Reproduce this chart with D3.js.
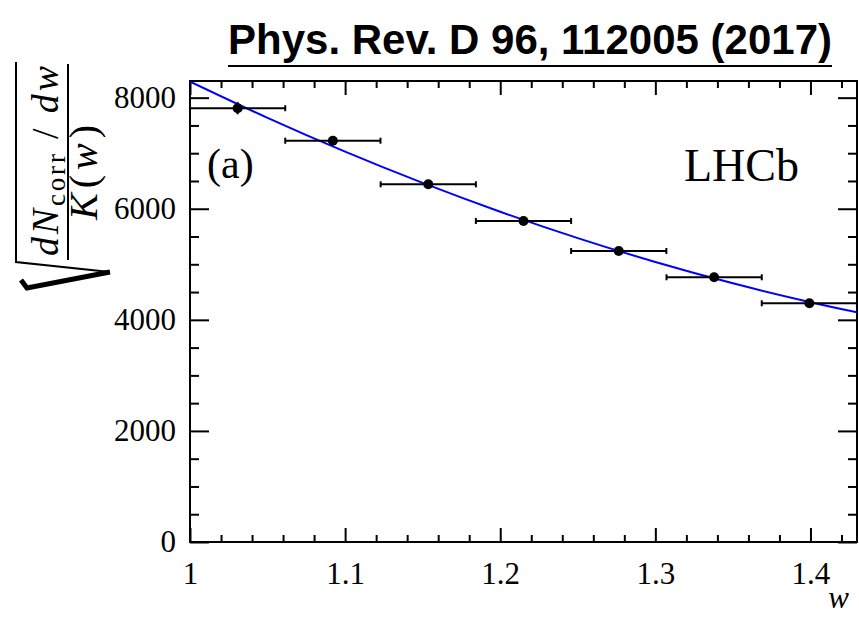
<!DOCTYPE html>
<html>
<head>
<meta charset="utf-8">
<script src="https://cdn.jsdelivr.net/npm/d3@7"></script>
<style>
  html, body { margin: 0; padding: 0; background: #fff; }
  svg { display: block; }
</style>
</head>
<body>
<svg id="chart" width="859" height="618"></svg>
<script>
// ---------------- data ----------------
const wCenters   = [1.0307, 1.0921, 1.1536, 1.2150, 1.2764, 1.3379, 1.3993];
const wHalfWidth = [0.0307, 0.0307, 0.0307, 0.0307, 0.0307, 0.0307, 0.0307];
const yValues    = [7810, 7225, 6440, 5780, 5240, 4766, 4298];
const yErrors    = [110, 70, 60, 50, 45, 40, 35];

const fitW = [1.00, 1.05, 1.10, 1.15, 1.20, 1.25, 1.30, 1.35, 1.40, 1.43];
const fitY = [8290, 7637, 7028, 6465, 5946, 5471, 5042, 4657, 4318, 4136];

const xMajorTicks  = [1.0, 1.1, 1.2, 1.3, 1.4];
const xTickLabels  = ["1", "1.1", "1.2", "1.3", "1.4"];
const yMajorTicks  = [0, 2000, 4000, 6000, 8000];
const yTickLabels  = ["0", "2000", "4000", "6000", "8000"];

const titleText = "Phys. Rev. D 96, 112005 (2017)";

// ---------------- layout ----------------
const svg = d3.select("#chart");
const L = 190, R = 857, T = 81, B = 542;
const x = d3.scaleLinear().domain([1.0, 1.43]).range([L, R]);
const y = d3.scaleLinear().domain([0, 8300]).range([B, T]);

const serif = "'Liberation Serif','Times New Roman',Times,serif";

const xMinor = d3.range(1.0, 1.4301, 0.02).filter(v => !xMajorTicks.some(m => Math.abs(m - v) < 1e-6));
const yMinor = d3.range(0, 8301, 500).filter(v => v % 2000 !== 0);

svg.append("defs").append("clipPath").attr("id", "plotclip")
  .append("rect").attr("x", L).attr("y", T).attr("width", R - L).attr("height", B - T);

function styleAxis(g) {
  g.select(".domain").remove();
  g.attr("font-family", serif).attr("font-size", 31);
  g.selectAll(".tick line").attr("stroke", "#000").attr("stroke-width", 2);
  g.selectAll(".tick text").attr("fill", "#000").style("font-family", serif).style("font-size", "31px");
}

// bottom axis
const gxB = svg.append("g").attr("transform", `translate(0,${B})`)
  .call(d3.axisBottom(x).tickValues(xMajorTicks).tickSizeInner(-14).tickSizeOuter(0)
        .tickPadding(20).tickFormat((d, i) => xTickLabels[i]));
styleAxis(gxB);
const gxBm = svg.append("g").attr("transform", `translate(0,${B})`)
  .call(d3.axisBottom(x).tickValues(xMinor).tickSizeInner(-7).tickSizeOuter(0).tickFormat(""));
styleAxis(gxBm);

// top axis
const gxT = svg.append("g").attr("transform", `translate(0,${T})`)
  .call(d3.axisTop(x).tickValues(xMajorTicks).tickSizeInner(-14).tickSizeOuter(0).tickFormat(""));
styleAxis(gxT);
const gxTm = svg.append("g").attr("transform", `translate(0,${T})`)
  .call(d3.axisTop(x).tickValues(xMinor).tickSizeInner(-7).tickSizeOuter(0).tickFormat(""));
styleAxis(gxTm);

// left axis
const gyL = svg.append("g").attr("transform", `translate(${L},0)`)
  .call(d3.axisLeft(y).tickValues(yMajorTicks).tickSizeInner(-19).tickSizeOuter(0)
        .tickPadding(14).tickFormat((d, i) => yTickLabels[i]));
styleAxis(gyL);
const gyLm = svg.append("g").attr("transform", `translate(${L},0)`)
  .call(d3.axisLeft(y).tickValues(yMinor).tickSizeInner(-9).tickSizeOuter(0).tickFormat(""));
styleAxis(gyLm);

// right axis
const gyR = svg.append("g").attr("transform", `translate(${R},0)`)
  .call(d3.axisRight(y).tickValues(yMajorTicks).tickSizeInner(-19).tickSizeOuter(0).tickFormat(""));
styleAxis(gyR);
const gyRm = svg.append("g").attr("transform", `translate(${R},0)`)
  .call(d3.axisRight(y).tickValues(yMinor).tickSizeInner(-9).tickSizeOuter(0).tickFormat(""));
styleAxis(gyRm);

// frame
svg.append("rect").attr("x", L).attr("y", T).attr("width", R - L).attr("height", B - T)
  .attr("fill", "none").attr("stroke", "#000").attr("stroke-width", 2);

// fit curve
const fitData = fitW.map((w, i) => ({ w, v: fitY[i] }));
svg.append("path").datum(fitData)
  .attr("clip-path", "url(#plotclip)")
  .attr("fill", "none").attr("stroke", "#0000ff").attr("stroke-width", 2)
  .attr("d", d3.line().x(d => x(d.w)).y(d => y(d.v)).curve(d3.curveCatmullRom.alpha(0.5)));

// data points with error bars
const pts = wCenters.map((w, i) => ({ w, h: wHalfWidth[i], v: yValues[i], e: yErrors[i] }));
const gp = svg.append("g").attr("stroke", "#000").attr("stroke-width", 2);
gp.selectAll("line.h").data(pts).enter().append("line")
  .attr("x1", d => x(d.w - d.h)).attr("x2", d => x(d.w + d.h))
  .attr("y1", d => y(d.v)).attr("y2", d => y(d.v));
gp.selectAll("line.v").data(pts).enter().append("line")
  .attr("x1", d => x(d.w)).attr("x2", d => x(d.w))
  .attr("y1", d => y(d.v - d.e)).attr("y2", d => y(d.v + d.e));
gp.selectAll("line.capl").data(pts).enter().append("line")
  .attr("x1", d => x(d.w - d.h)).attr("x2", d => x(d.w - d.h))
  .attr("y1", d => y(d.v) - 3).attr("y2", d => y(d.v) + 3);
gp.selectAll("line.capr").data(pts).enter().append("line")
  .attr("x1", d => x(d.w + d.h)).attr("x2", d => x(d.w + d.h))
  .attr("y1", d => y(d.v) - 3).attr("y2", d => y(d.v) + 3);
svg.append("g").selectAll("circle").data(pts).enter().append("circle")
  .attr("cx", d => x(d.w)).attr("cy", d => y(d.v)).attr("r", 5).attr("fill", "#000");

// labels
svg.append("text").attr("x", 207).attr("y", 178).attr("font-family", serif)
  .attr("font-size", 42).text("(a)");
svg.append("text").attr("x", 684).attr("y", 181).attr("font-family", serif)
  .attr("font-size", 46).text("LHCb");
svg.append("text").attr("x", 849).attr("y", 608).attr("text-anchor", "end")
  .attr("font-family", serif).attr("font-style", "italic").attr("font-size", 31).text("w");

// title
const title = svg.append("text").attr("x", 832).attr("y", 54).attr("text-anchor", "end")
  .attr("font-family", "'Liberation Sans',Arial,Helvetica,sans-serif").attr("font-weight", "bold")
  .attr("font-size", 42).text(titleText);
const tl = title.node().getComputedTextLength();
svg.append("line").attr("x1", 832 - tl).attr("x2", 832).attr("y1", 66).attr("y2", 66)
  .attr("stroke", "#000").attr("stroke-width", 2);

// y-axis title (rotated): local u = 290 - screenY, v = screenX
const gt = svg.append("g").attr("transform", "translate(0,290) rotate(-90)");
const num = gt.append("text").attr("x", 34).attr("y", 58)
  .attr("font-family", serif).attr("font-size", 38)
  .attr("textLength", 190).attr("lengthAdjust", "spacing");
num.append("tspan").attr("font-style", "italic").text("dN");
num.append("tspan").attr("font-size", 27).attr("dy", 7).text("corr");
num.append("tspan").attr("dy", -7).text(" / ");
num.append("tspan").attr("font-style", "italic").text("dw");
gt.append("line").attr("x1", 30).attr("x2", 226).attr("y1", 68).attr("y2", 68)
  .attr("stroke", "#000").attr("stroke-width", 2);
const den = gt.append("text").attr("x", 70).attr("y", 97)
  .attr("font-family", serif).attr("font-size", 40)
  .attr("textLength", 95).attr("lengthAdjust", "spacing");
den.append("tspan").attr("font-style", "italic").text("K");
den.append("tspan").text("(");
den.append("tspan").attr("font-style", "italic").text("w");
den.append("tspan").text(")");
// radical sign (screen coordinates)
svg.append("path")
  .attr("d", "M16,62 L16,262 L110,272")
  .attr("fill", "none").attr("stroke", "#000").attr("stroke-width", 2);
svg.append("path")
  .attr("d", "M110,272 L27,288 L21,280")
  .attr("fill", "none").attr("stroke", "#000").attr("stroke-width", 5).attr("stroke-linejoin", "miter");
</script>
</body>
</html>
